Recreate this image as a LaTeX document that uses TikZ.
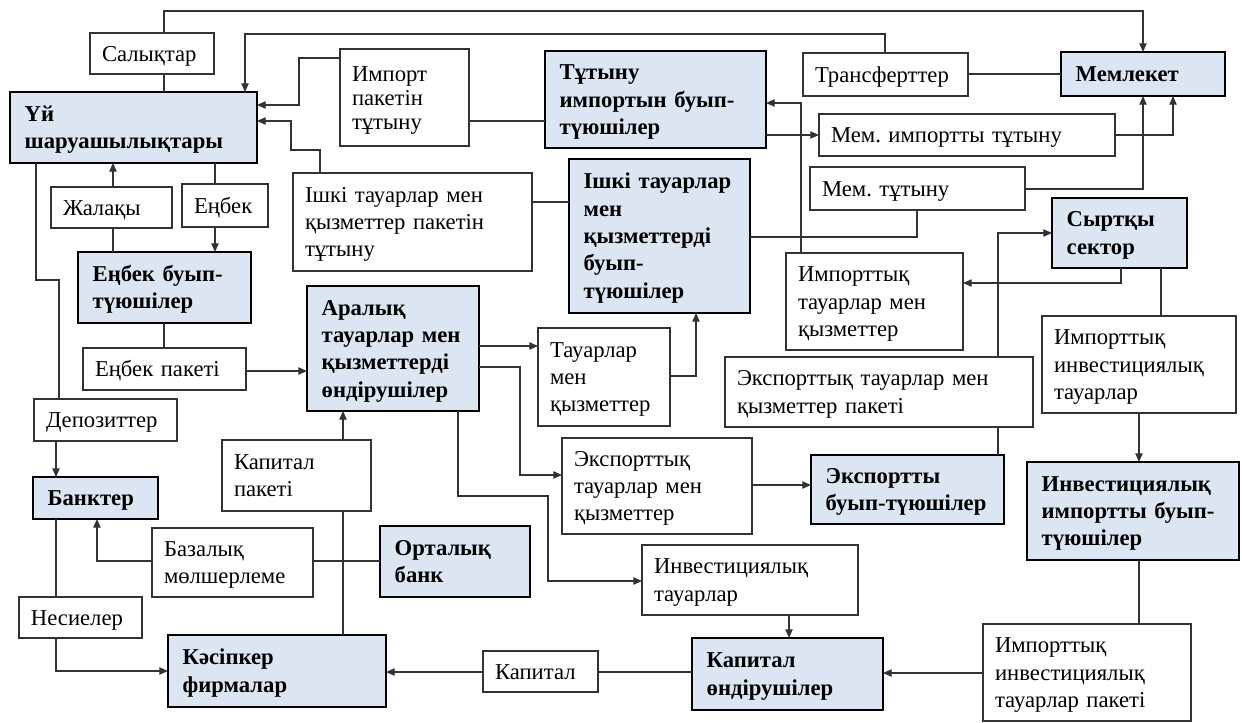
\documentclass[tikz,border=0pt]{standalone}
\usepackage{fontspec}
\setmainfont{Liberation Serif}
\usetikzlibrary{arrows.meta}
\frenchspacing
\hyphenpenalty=10000
\exhyphenpenalty=10000
\definecolor{boxblue}{HTML}{DCE6F2}
\definecolor{ln}{HTML}{333333}
\tikzset{
 base/.style={outer sep=0pt, inner ysep=1pt, align=left},
 boldbox/.style={base, draw=black, line width=1.9pt, fill=boxblue, inner xsep=11pt, font=\fontsize{17}{20.5}\selectfont\bfseries},
 plainbox/.style={base, draw=ln, line width=0.9pt, fill=white, inner xsep=9pt, font=\fontsize{17}{20.5}\selectfont},
 conn/.style={draw=ln, line width=0.9pt},
 arr/.style={conn, -{Triangle[length=6.5pt,width=5.5pt]}},
}
\newcommand\topstrut{\rule{0pt}{15pt}}
\newcommand\botstrut{\rule[-3.5pt]{0pt}{3.5pt}}
\newcommand\bbx[6]{%
  \pgfmathsetlengthmacro\bxw{(#4-#2)*0.75pt}%
  \pgfmathsetlengthmacro\bxh{(#5-#3)*0.75pt}%
  \pgfmathsetlengthmacro\bxt{(#4-#2)*0.75pt-22pt}%
  \node[boldbox, minimum width=\bxw, minimum height=\bxh, text width=\bxt] (#1) at ({(#2+#4)/2},{(#3+#5)/2}) {\topstrut#6\botstrut};}
\newcommand\pbx[6]{%
  \pgfmathsetlengthmacro\bxw{(#4-#2)*0.75pt}%
  \pgfmathsetlengthmacro\bxh{(#5-#3)*0.75pt}%
  \pgfmathsetlengthmacro\bxt{(#4-#2)*0.75pt-18pt}%
  \node[plainbox, minimum width=\bxw, minimum height=\bxh, text width=\bxt] (#1) at ({(#2+#4)/2},{(#3+#5)/2}) {\topstrut#6\botstrut};}
\begin{document}
\begin{tikzpicture}[x=0.75pt,y=-0.75pt]
\fill[white] (0,0) rectangle (1242,722);
\useasboundingbox (0,0) rectangle (1242,722);
% bold boxes
\bbx{uy}{10}{92}{257}{163}{Үй\\шаруашылықтары}
\bbx{tutimp}{545}{51}{766}{148}{Тұтыну\\импортын~буып-\\түюшілер}
\bbx{mem}{1061}{52}{1225}{96}{Мемлекет}
\bbx{ishbuy}{569}{159}{750}{313}{Ішкі~тауарлар\\мен\\қызметтерді\\буып-\\түюшілер}
\bbx{syrt}{1052}{198}{1187}{268}{Сыртқы\\сектор}
\bbx{enbuy}{78}{252}{251}{323}{Еңбек~буып-\\түюшілер}
\bbx{aral}{307}{286}{479}{411}{Аралық\\тауарлар~мен\\қызметтерді\\өндірушілер}
\bbx{bank}{33}{477}{158}{519}{Банктер}
\bbx{ortb}{380}{526}{530}{597}{Орталық\\банк}
\bbx{kasip}{168}{635}{386}{707}{Кәсіпкер\\фирмалар}
\bbx{expbuy}{811}{455}{1004}{524}{Экспортты\\буып-түюшілер}
\bbx{invimp}{1027}{462}{1239}{560}{Инвестициялық\\импортты~буып-\\түюшілер}
\bbx{kapon}{692}{638}{883}{710}{Капитал\\өндірушілер}
% plain boxes
\pbx{salyk}{90}{33}{214}{74}{Салықтар}
\node[plainbox, font=\fontsize{17}{18}\selectfont, minimum width=96.75pt, minimum height=72.75pt, text width=78.75pt] (imppak) at (404.5,97.5) {\topstrut Импорт\\пакетін\\тұтыну\botstrut};
\pbx{transf}{803}{53}{968}{96}{Трансферттер}
\pbx{memimp}{819}{114}{1115}{156}{Мем.~импортты~тұтыну}
\pbx{memtut}{810}{167}{1025}{210}{Мем.~тұтыну}
\pbx{zhal}{51}{187}{172}{228}{Жалақы}
\pbx{enbek}{182}{184}{268}{227}{Еңбек}
\pbx{ishpak}{293}{173}{532}{271}{Ішкі~тауарлар~мен\\қызметтер~пакетін\\тұтыну}
\pbx{imptau}{786}{253}{963}{350}{Импорттық\\тауарлар~мен\\қызметтер}
\pbx{enpak}{83}{348}{246}{390}{Еңбек~пакеті}
\pbx{tauar}{538}{328}{670}{426}{Тауарлар\\мен\\қызметтер}
\pbx{exppak}{725}{357}{1033}{427}{Экспорттық~тауарлар~мен\\қызметтер~пакеті}
\pbx{impinv}{1042}{316}{1236}{413}{Импорттық\\инвестициялық\\тауарлар}
\pbx{depo}{34}{399}{177}{441}{Депозиттер}
\pbx{kappak}{222}{440}{371}{511}{Капитал\\пакеті}
\pbx{exptau}{562}{438}{752}{534}{Экспорттық\\тауарлар~мен\\қызметтер}
\pbx{bazal}{152}{528}{313}{597}{Базалық\\мөлшерлеме}
\pbx{invtau}{642}{545}{858}{615}{Инвестициялық\\тауарлар}
\pbx{nesie}{19}{597}{142}{638}{Несиелер}
\pbx{kapital}{483}{651}{598}{692}{Капитал}
\pbx{impinvp}{983}{624}{1191}{721}{Импорттық\\инвестициялық\\тауарлар~пакеті}
% connectors
\draw[arr] (salyk.north -| 164,0) -- (164,11) -- (1143,11) -- (mem.north);
\draw[conn] (uy.north -| 164,0) -- (salyk.south -| 164,0);
\draw[conn] (mem.west) -- (mem.west -| transf.east);
\draw[arr] (transf.north -| 885,0) -- (885,34) -- (245,34) -- (uy.north -| 245,0);
\draw[conn] (tutimp.west |- 0,121) -- (imppak.east |- 0,121);
\draw[arr] (imppak.west |- 0,58) -- (299,58) -- (299,105) -- (uy.east |- 0,105);
\draw[conn] (ishbuy.west |- 0,202) -- (ishpak.east |- 0,202);
\draw[arr] (ishpak.north -| 320,0) -- (320,150) -- (291,150) -- (291,121) -- (uy.east |- 0,121);
\draw[arr] (imptau.north -| 801,0) -- (801,103) -- (tutimp.east |- 0,103);
\draw[arr] (tutimp.east |- 0,135) -- (memimp.west |- 0,135);
\draw[arr] (memimp.east |- 0,135) -- (1173,135) -- (mem.south -| 1173,0);
\draw[arr] (memtut.east |- 0,189) -- (1143,189) -- (mem.south -| 1143,0);
\draw[conn] (ishbuy.east |- 0,237) -- (917,237) -- (memtut.south -| 917,0);
\draw[arr] (exppak.north -| 998,0) -- (998,233) -- (syrt.west |- 0,233);
\draw[conn] (expbuy.north -| 998,0) -- (exppak.south -| 998,0);
\draw[arr] (syrt.south -| 1121,0) -- (1121,283) -- (imptau.east |- 0,283);
\draw[conn] (syrt.south -| 1161,0) -- (impinv.north -| 1161,0);
\draw[arr] (impinv.south -| 1139,0) -- (invimp.north -| 1139,0);
\draw[conn] (invimp.south -| 1139,0) -- (impinvp.north -| 1139,0);
\draw[arr] (impinvp.west |- 0,673) -- (kapon.east |- 0,673);
\draw[conn] (kapon.west |- 0,672) -- (kapital.east |- 0,672);
\draw[arr] (kapital.west |- 0,672) -- (kasip.east |- 0,672);
\draw[arr] (invtau.south -| 789,0) -- (kapon.north -| 789,0);
\draw[arr] (aral.east |- 0,346) -- (tauar.west |- 0,346);
\draw[arr] (aral.east |- 0,367) -- (520,367) -- (520,475) -- (exptau.west |- 0,475);
\draw[arr] (exptau.east |- 0,485) -- (expbuy.west |- 0,485);
\draw[arr] (aral.south -| 458,0) -- (458,496) -- (548,496) -- (548,581) -- (invtau.west |- 0,581);
\draw[arr] (tauar.east |- 0,376) -- (696,376) -- (ishbuy.south -| 696,0);
\draw[conn] (enbuy.south -| 164,0) -- (enpak.north -| 164,0);
\draw[arr] (enpak.east |- 0,371) -- (aral.west |- 0,371);
\draw[arr] (zhal.north -| 113,0) -- (uy.south -| 113,0);
\draw[conn] (zhal.south -| 113,0) -- (enbuy.north -| 113,0);
\draw[conn] (uy.south -| 215,0) -- (enbek.north -| 215,0);
\draw[arr] (enbek.south -| 215,0) -- (enbuy.north -| 215,0);
\draw[conn] (uy.south -| 36,0) -- (36,280) -- (59,280) -- (depo.north -| 59,0);
\draw[arr] (depo.south -| 56,0) -- (bank.north -| 56,0);
\draw[conn] (bank.south -| 56,0) -- (nesie.north -| 56,0);
\draw[arr] (nesie.south -| 56,0) -- (56,671) -- (kasip.west |- 0,671);
\draw[conn] (ortb.west |- 0,561) -- (bazal.east |- 0,561);
\draw[arr] (bazal.west |- 0,561) -- (97,561) -- (bank.south -| 97,0);
\draw[conn] (kasip.north -| 343,0) -- (kappak.south -| 343,0);
\draw[arr] (kappak.north -| 343,0) -- (aral.south -| 343,0);
\end{tikzpicture}
\end{document}
